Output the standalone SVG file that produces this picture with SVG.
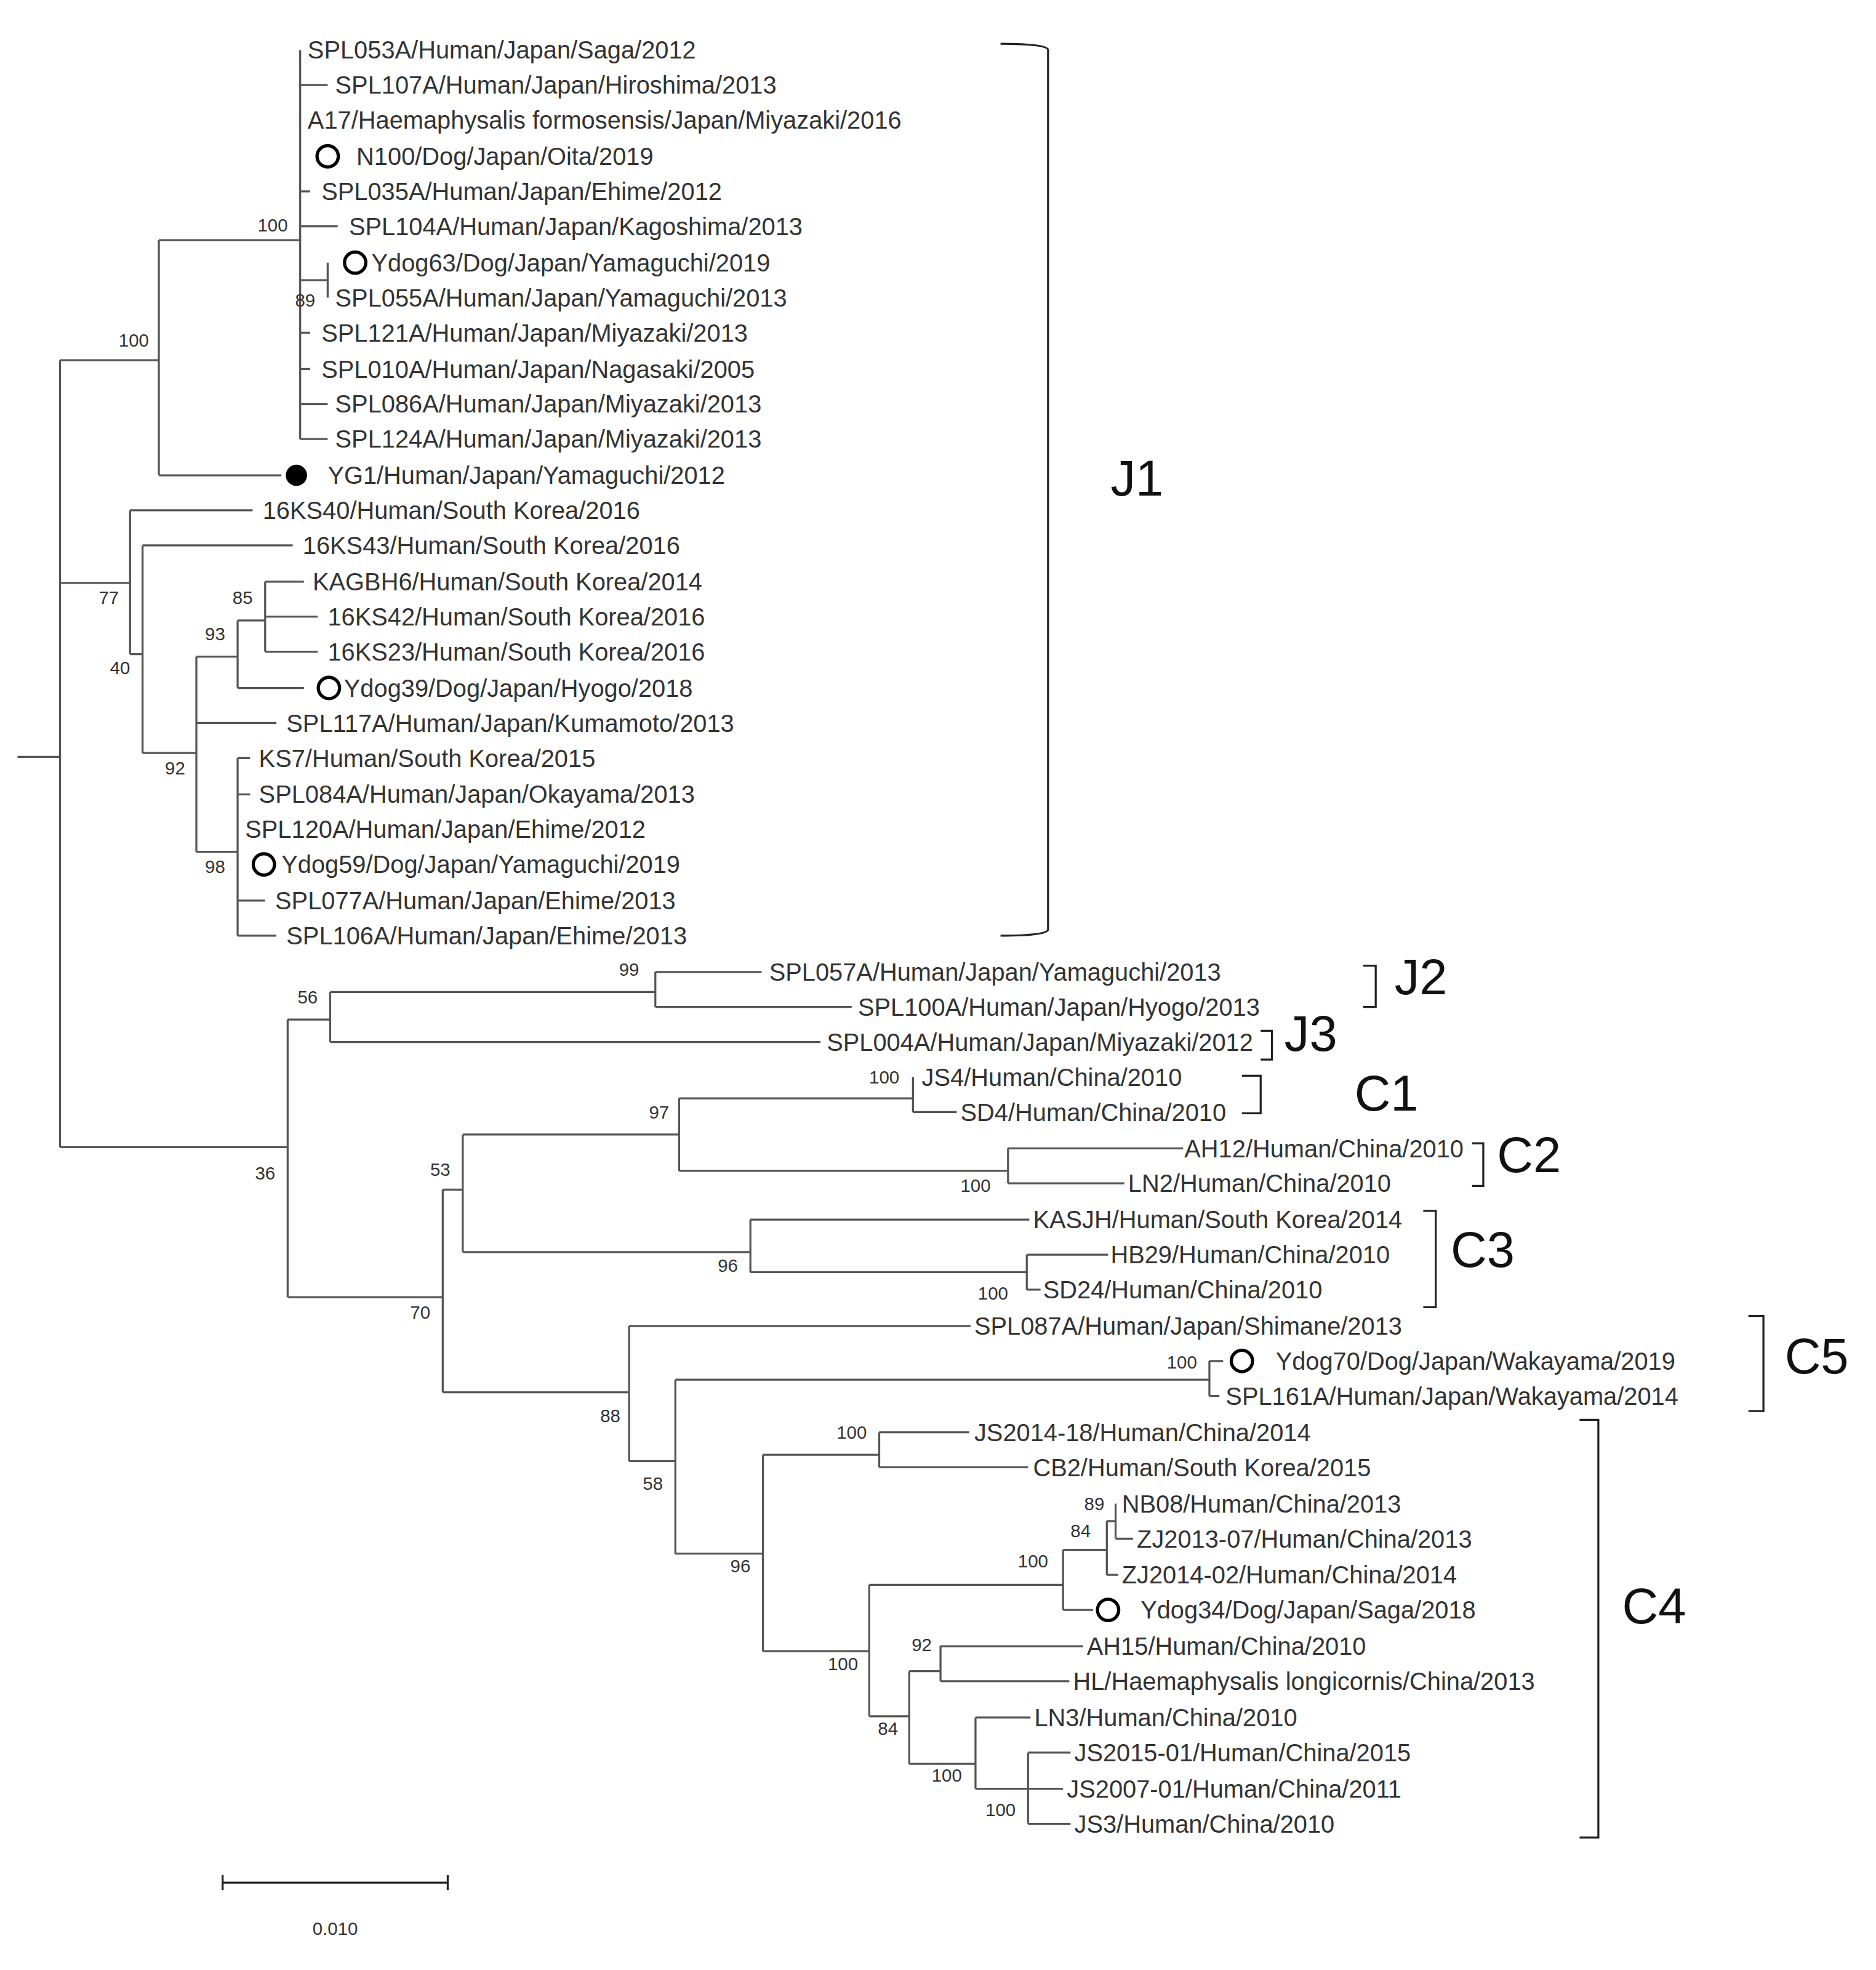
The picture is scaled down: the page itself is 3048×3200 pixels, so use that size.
<svg xmlns="http://www.w3.org/2000/svg" width="3048" height="3200" viewBox="0 0 3048 3200">
<style>
.t{font-family:"Liberation Sans",Arial,sans-serif;font-size:19.6px;fill:#333}
.b{font-family:"Liberation Sans",Arial,sans-serif;font-size:14.5px;fill:#333}
.c{font-family:"Liberation Sans",Arial,sans-serif;font-size:40px;fill:#111}
.e path{fill:none;stroke:#555;stroke-width:1.6}
.k{fill:none;stroke:#222;stroke-width:1.6}
.o{fill:none;stroke:#000;stroke-width:2.6}
</style>
<rect width="3048" height="3200" fill="#fff"/>
<g transform="translate(0,4) scale(2.032)">
<g id="edges" class="e">
<path d="M14 603H48M48 286V915"/>
<path d="M48 286H127M127 190V378M127 190H240M240 38V349"/>
<path d="M240 66H262M240 151H248M240 179H270M240 222H262M262 208V236M240 264H248M240 293H248M240 321H262M240 349H262M127 378H225"/>
<path d="M48 464H104M104 406V521M104 406H202M104 521H114M114 434V600M114 434H234M114 600H157M157 523V679"/>
<path d="M157 523H190M190 494V548M190 494H212M212 463V519M212 463H243M212 491H254M212 519H254M190 548H243M157 576H221"/>
<path d="M157 679H190M190 604V746M190 604H200M190 633H200M190 718H212M190 746H221"/>
<path d="M48 915H230M230 813V1035M230 813H264M264 791V831M264 791H524M524 775V803M524 775H609M524 803H681M264 831H656"/>
<path d="M230 1035H354M354 949V1111M354 949H370M370 905V999M370 905H543M543 876V934M543 876H730M730 859V887M730 887H765M543 934H806M806 916V944M806 916H946M806 944H899"/>
<path d="M370 999H600M600 973V1015M600 973H823M600 1015H821M821 1001V1029M821 1001H886M821 1029H832"/>
<path d="M354 1111H503M503 1058V1166M503 1058H776M503 1166H540M540 1101V1240M540 1101H967M967 1086V1114M967 1086H978M967 1114H975"/>
<path d="M540 1240H610M610 1161V1318M610 1161H703M703 1143V1171M703 1143H775M703 1171H822"/>
<path d="M610 1318H695M695 1265V1370M695 1265H850M850 1237V1285M850 1237H885M885 1214V1257M885 1214H892M892 1200V1228M892 1228H906M885 1257H894M850 1285H874"/>
<path d="M695 1370H727M727 1334V1408M727 1334H752M752 1314V1342M752 1314H866M752 1342H855M727 1408H780M780 1371V1428M780 1371H824M780 1428H822M822 1399V1456M822 1399H856M822 1428H850M822 1456H856"/>
</g>
<g id="marks">
<circle class="o" cx="262" cy="123" r="8.5"/>
<circle class="o" cx="284" cy="208" r="8.5"/>
<circle cx="237" cy="378" r="8.5" fill="#000"/>
<circle class="o" cx="263" cy="548" r="8.5"/>
<circle class="o" cx="211" cy="689" r="8.5"/>
<circle class="o" cx="993" cy="1086" r="8.5"/>
<circle class="o" cx="886" cy="1285" r="8.5"/>
</g>
<g id="leaves" class="t">
<text x="246" y="45">SPL053A/Human/Japan/Saga/2012</text>
<text x="268" y="73">SPL107A/Human/Japan/Hiroshima/2013</text>
<text x="246" y="101">A17/Haemaphysalis formosensis/Japan/Miyazaki/2016</text>
<text x="285" y="130">N100/Dog/Japan/Oita/2019</text>
<text x="257" y="158">SPL035A/Human/Japan/Ehime/2012</text>
<text x="279" y="186">SPL104A/Human/Japan/Kagoshima/2013</text>
<text x="297" y="215">Ydog63/Dog/Japan/Yamaguchi/2019</text>
<text x="268" y="243">SPL055A/Human/Japan/Yamaguchi/2013</text>
<text x="257" y="271">SPL121A/Human/Japan/Miyazaki/2013</text>
<text x="257" y="300">SPL010A/Human/Japan/Nagasaki/2005</text>
<text x="268" y="328">SPL086A/Human/Japan/Miyazaki/2013</text>
<text x="268" y="356">SPL124A/Human/Japan/Miyazaki/2013</text>
<text x="262" y="385">YG1/Human/Japan/Yamaguchi/2012</text>
<text x="210" y="413">16KS40/Human/South Korea/2016</text>
<text x="242" y="441">16KS43/Human/South Korea/2016</text>
<text x="250" y="470">KAGBH6/Human/South Korea/2014</text>
<text x="262" y="498">16KS42/Human/South Korea/2016</text>
<text x="262" y="526">16KS23/Human/South Korea/2016</text>
<text x="275" y="555">Ydog39/Dog/Japan/Hyogo/2018</text>
<text x="229" y="583">SPL117A/Human/Japan/Kumamoto/2013</text>
<text x="207" y="611">KS7/Human/South Korea/2015</text>
<text x="207" y="640">SPL084A/Human/Japan/Okayama/2013</text>
<text x="196" y="668">SPL120A/Human/Japan/Ehime/2012</text>
<text x="225" y="696">Ydog59/Dog/Japan/Yamaguchi/2019</text>
<text x="220" y="725">SPL077A/Human/Japan/Ehime/2013</text>
<text x="229" y="753">SPL106A/Human/Japan/Ehime/2013</text>
<text x="615" y="782">SPL057A/Human/Japan/Yamaguchi/2013</text>
<text x="686" y="810">SPL100A/Human/Japan/Hyogo/2013</text>
<text x="661" y="838">SPL004A/Human/Japan/Miyazaki/2012</text>
<text x="737" y="866">JS4/Human/China/2010</text>
<text x="768" y="894">SD4/Human/China/2010</text>
<text x="947" y="923">AH12/Human/China/2010</text>
<text x="902" y="951">LN2/Human/China/2010</text>
<text x="826" y="980">KASJH/Human/South Korea/2014</text>
<text x="888" y="1008">HB29/Human/China/2010</text>
<text x="834" y="1036">SD24/Human/China/2010</text>
<text x="779" y="1065">SPL087A/Human/Japan/Shimane/2013</text>
<text x="1020" y="1093">Ydog70/Dog/Japan/Wakayama/2019</text>
<text x="980" y="1121">SPL161A/Human/Japan/Wakayama/2014</text>
<text x="779" y="1150">JS2014-18/Human/China/2014</text>
<text x="826" y="1178">CB2/Human/South Korea/2015</text>
<text x="897" y="1207">NB08/Human/China/2013</text>
<text x="909" y="1235">ZJ2013-07/Human/China/2013</text>
<text x="897" y="1264">ZJ2014-02/Human/China/2014</text>
<text x="912" y="1292">Ydog34/Dog/Japan/Saga/2018</text>
<text x="869" y="1321">AH15/Human/China/2010</text>
<text x="858" y="1349">HL/Haemaphysalis longicornis/China/2013</text>
<text x="827" y="1378">LN3/Human/China/2010</text>
<text x="859" y="1406">JS2015-01/Human/China/2015</text>
<text x="853" y="1435">JS2007-01/Human/China/2011</text>
<text x="859" y="1463">JS3/Human/China/2010</text>
</g>
<g id="bootstrap" class="b" text-anchor="middle">
<text x="218" y="183">100</text><text x="244" y="243">89</text><text x="107" y="275">100</text>
<text x="87" y="481">77</text><text x="96" y="537">40</text><text x="194" y="481">85</text>
<text x="172" y="510">93</text><text x="140" y="617">92</text><text x="172" y="696">98</text>
<text x="503" y="778">99</text><text x="246" y="800">56</text><text x="212" y="941">36</text>
<text x="707" y="864">100</text><text x="527" y="892">97</text><text x="352" y="938">53</text>
<text x="780" y="951">100</text><text x="582" y="1015">96</text><text x="794" y="1037">100</text>
<text x="336" y="1052">70</text><text x="945" y="1092">100</text><text x="488" y="1135">88</text>
<text x="681" y="1148">100</text><text x="522" y="1189">58</text><text x="875" y="1205">89</text>
<text x="864" y="1227">84</text><text x="826" y="1251">100</text><text x="592" y="1255">96</text>
<text x="737" y="1318">92</text><text x="674" y="1333">100</text><text x="710" y="1385">84</text>
<text x="757" y="1422">100</text><text x="800" y="1450">100</text>
</g>
<g id="clades">
<path class="k" d="M800 33Q838 33 838 38V741Q838 746 800 746"/>
<text class="c" x="888" y="394">J1</text>
<path class="k" d="M1090 770H1100V803H1090"/><text class="c" x="1115" y="793">J2</text>
<path class="k" d="M1008 822H1017V845H1008"/><text class="c" x="1027" y="838">J3</text>
<path class="k" d="M993 858H1008V888H993"/><text class="c" x="1083" y="886">C1</text>
<path class="k" d="M1177 912H1186V946H1177"/><text class="c" x="1197" y="935">C2</text>
<path class="k" d="M1138 966H1148V1043H1138"/><text class="c" x="1160" y="1011">C3</text>
<path class="k" d="M1398 1050H1410V1126H1398"/><text class="c" x="1427" y="1096">C5</text>
<path class="k" d="M1263 1133H1278V1467H1263"/><text class="c" x="1297" y="1296">C4</text>
</g>
<g id="scale">
<path class="k" d="M178 1503H358M178 1497V1509M358 1497V1509"/>
<text class="b" x="268" y="1545" text-anchor="middle">0.010</text>
</g>
</g>
</svg>
